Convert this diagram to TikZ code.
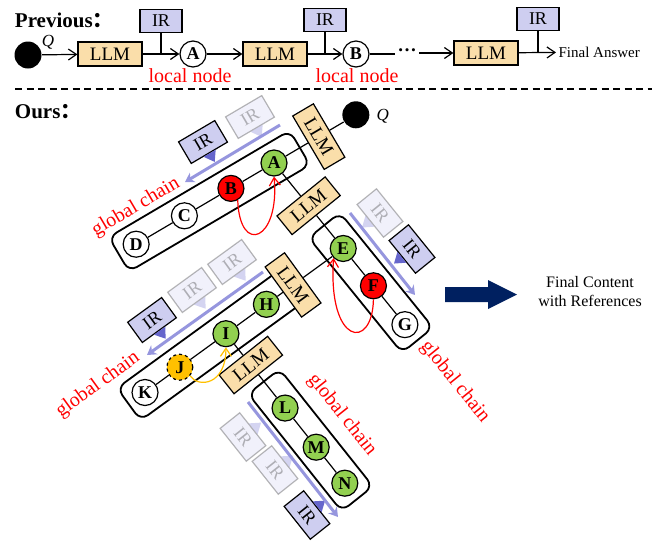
\documentclass[tikz,border=0pt]{standalone}
\usepackage{fontspec}
\setmainfont{Liberation Serif}
\newfontfamily\cjk{Noto Sans CJK SC}
\usetikzlibrary{arrows.meta,calc}

\definecolor{llmfill}{RGB}{250,222,170}
\definecolor{irfill}{RGB}{206,206,240}
\definecolor{irtipc}{RGB}{102,102,204}
\definecolor{irline}{RGB}{150,150,222}
\definecolor{gfill}{RGB}{146,208,80}
\definecolor{jfill}{RGB}{255,192,0}
\definecolor{navyc}{RGB}{0,32,96}

% small pointer under an IR box: box, edge, turn
\newcommand{\irmark}[4][]{%
  \fill[irtipc,#1] ($(#2.#3)!7pt!(#2.#3 east)$) -- ($(#2.#3)!7pt!(#2.#3 west)$)
    -- ($(#2.#3)!10pt!#4:(#2.#3 east)$) -- cycle;}

\begin{document}
\begin{tikzpicture}[x=1pt,y=-1pt,line width=1.2pt,
                    tip/.style={-{Straight Barb[length=8pt,width=11pt]}}]
  \tikzstyle{llm}=[draw,fill=llmfill,minimum width=64pt,minimum height=24pt,inner sep=0pt,font=\fontsize{19}{19}\selectfont]
  \tikzstyle{irbox}=[draw,fill=irfill,minimum width=42pt,minimum height=25pt,inner sep=0pt,font=\fontsize{18}{18}\selectfont]
  \tikzstyle{faded}=[opacity=0.28]
  \tikzstyle{cnode}=[circle,draw,fill=white,minimum size=26pt,inner sep=0pt,font=\bfseries\fontsize{18}{18}\selectfont]
  \tikzstyle{qdot}=[circle,fill=black,minimum size=27pt,inner sep=0pt]
  \tikzstyle{capsule}=[draw,line width=1.8pt,rounded corners=9pt,minimum height=40pt]
  \tikzstyle{chainlbl}=[text=red,font=\fontsize{20}{20}\selectfont]
  \tikzstyle{irflow}=[irline,line width=3pt,-{Stealth[length=9pt,width=11pt]}]

  \useasboundingbox (0,0) rectangle (662,542);

  % previous pipeline
  \node[anchor=west,font=\bfseries\fontsize{21}{21}\selectfont] (prev) at (11,20) {Previous{\cjk ：}};
  \node[qdot] (q0) at (28,55) {};
  \node[font=\itshape\fontsize{17}{17}\selectfont] (q0lbl) at (48,42) {Q};
  \node[llm] (llm1) at (110,54) {LLM};
  \node[irbox,minimum height=23pt] (ir1) at (161,21) {IR};
  \node[cnode] (a0) at (193,54) {A};
  \node[llm] (llm2) at (275,54) {LLM};
  \node[irbox,minimum height=23pt] (ir2) at (325,20) {IR};
  \node[cnode] (b0) at (356,54) {B};
  \node[inner sep=2pt,font=\bfseries\fontsize{19}{19}\selectfont] (dots) at (407,50) {…};
  \node[llm] (llm3) at (486,53) {LLM};
  \node[irbox,minimum height=23pt] (ir3) at (538,19) {IR};
  \node[anchor=west,inner sep=2pt,font=\fontsize{15}{15}\selectfont] (ans) at (556,52) {Final Answer};
  \node[text=red,font=\fontsize{20}{20}\selectfont] (loc1) at (190,76) {local node};
  \node[text=red,font=\fontsize{20}{20}\selectfont] (loc2) at (357,76) {local node};

  \draw[tip] (q0) -- (llm1);
  \draw[tip] (llm1) -- (a0);
  \draw (ir1) -- (ir1 |- a0);
  \draw[tip] (a0) -- (llm2);
  \draw[tip] (llm2) -- (b0);
  \draw (ir2) -- (ir2 |- b0);
  \draw (b0) -- (dots.west |- b0);
  \draw[tip] (dots.east |- llm3) -- (llm3);
  \draw[tip] (llm3) -- (ans);
  \draw (ir3) -- (ir3 |- ans);

  \draw[dash pattern=on 7pt off 4.5pt] (15,89) -- (652,89);

  % ours
  \node[anchor=west,font=\bfseries\fontsize{21}{21}\selectfont] (ours) at (11,112) {Ours{\cjk ：}};

  \node[cnode,fill=gfill] (A) at (274,163) {A};
  \node[cnode,fill=red]   (B) at ($(A)+(149.5:50)$) {B};
  \node[cnode]            (C) at ($(A)+(149.5:104)$) {C};
  \node[cnode]            (D) at ($(A)+(149.5:160)$) {D};
  \node[qdot]             (Q) at ($(A)+(-30.5:95)$) {};
  \node[font=\itshape\fontsize{17}{17}\selectfont] (Qlbl) at ($(Q)+(27,1)$) {Q};

  \node[cnode,fill=gfill] (E) at ($(A)+(51:110)$) {E};
  \node[cnode,fill=red]   (F) at ($(A)+(51:158)$) {F};
  \node[cnode]            (G) at ($(A)+(51:208)$) {G};

  \node[cnode,fill=gfill] (H) at ($(E)+(144:95)$) {H};
  \node[cnode,fill=gfill] (I) at ($(E)+(144:145)$) {I};
  \node[cnode,fill=jfill,dashed] (J) at ($(E)+(144:202)$) {J};
  \node[cnode]            (K) at ($(E)+(144:245)$) {K};

  \node[cnode,fill=gfill] (L) at ($(I)+(51.5:95)$) {L};
  \node[cnode,fill=gfill] (M) at ($(I)+(51.5:145)$) {M};
  \node[cnode,fill=gfill] (N) at ($(I)+(51.5:191)$) {N};

  \node[capsule,rotate=30.5,minimum width=210pt] (capA) at ($(A)+(149.5:75)$) {};
  \node[capsule,rotate=-51,minimum width=148pt]  (capE) at ($(A)+(51:154)$) {};
  \node[capsule,rotate=36,minimum width=200pt]   (capH) at ($(E)+(144:165)$) {};
  \node[capsule,rotate=-51.5,minimum width=150pt] (capL) at ($(I)+(51.5:136)$) {};

  \node[llm,minimum width=62pt,rotate=-59.5] (lq) at ($(A)+(-30.5:52)$) {LLM};
  \node[llm,minimum width=62pt,rotate=39]    (la) at ($(A)+(51:55)$) {LLM};
  \node[llm,minimum width=62pt,rotate=-54]   (le) at ($(E)+(144:62)$) {LLM};
  \node[llm,minimum width=62pt,rotate=38.5]  (li) at ($(I)+(51.5:40)$) {LLM};

  \draw (Q) -- (lq) -- (A) -- (B) -- (C) -- (D);
  \draw (A) -- (la) -- (E) -- (F) -- (G);
  \draw (E) -- (le) -- (H) -- (I) -- (J) -- (K);
  \draw (I) -- (li) -- (L) -- (M) -- (N);

  \draw[red,tip] (B.-60) .. controls +(2,56) and +(6,64) .. (A.south);
  \draw[red,tip] (F.south) .. controls +(-1,52) and +(-6,87) .. (E.-135);
  \draw[jfill,tip] (J.-40) .. controls +(8,12) and +(0,38) .. (I.south);

  % retrieval along each chain
  \node[irbox,faded,rotate=30.5] (irA1) at (250,117) {IR};
  \node[irbox,rotate=30.5]       (irA2) at (203,142) {IR};
  \irmark[faded]{irA1}{south}{-90}
  \irmark{irA2}{south}{-90}
  \coordinate (fA1) at (280,125);
  \coordinate (fA2) at (185,182);
  \draw[irflow] (fA1) -- (fA2);

  \node[irbox,faded,rotate=-51] (irE1) at (380,213) {IR};
  \node[irbox,rotate=-51]       (irE2) at (412,249) {IR};
  \irmark[faded]{irE1}{south}{-90}
  \irmark{irE2}{south}{-90}
  \coordinate (fE1) at (350,213);
  \coordinate (fE2) at (415,295);
  \draw[irflow] (fE1) -- (fE2);

  \node[irbox,faded,rotate=36] (irH1) at (232,262) {IR};
  \node[irbox,faded,rotate=36] (irH2) at (192,290) {IR};
  \node[irbox,rotate=36]       (irH3) at (152,320) {IR};
  \irmark[faded]{irH1}{south}{-90}
  \irmark[faded]{irH2}{south}{-90}
  \irmark{irH3}{south}{-90}
  \coordinate (fH1) at (263,272);
  \coordinate (fH2) at (147,355);
  \draw[irflow] (fH1) -- (fH2);

  \node[irbox,faded,rotate=-51.5] (irL1) at (243,437) {IR};
  \node[irbox,faded,rotate=-51.5] (irL2) at (275,470) {IR};
  \node[irbox,rotate=-51.5]       (irL3) at (307,515) {IR};
  \irmark[faded]{irL1}{north}{90}
  \irmark[faded]{irL2}{north}{90}
  \irmark{irL3}{north}{90}
  \coordinate (fL1) at (248,402);
  \coordinate (fL2) at (338,517);
  \draw[irflow] (fL1) -- (fL2);

  \node[chainlbl,rotate=30.5] (lblA) at (136,207) {global chain};
  \node[chainlbl,rotate=-51]  (lblE) at (455,382) {global chain};
  \node[chainlbl,rotate=36]   (lblH) at (98,385) {global chain};
  \node[chainlbl,rotate=-51.5] (lblL) at (342,415) {global chain};

  % output
  \fill[navyc] (445,287) -- (488,287) -- (488,280) -- (517,294.5) -- (488,309) -- (488,302) -- (445,302) -- cycle;
  \node[align=center,font=\fontsize{16}{19}\selectfont] (fin) at (590,292) {Final Content\\with References};
\end{tikzpicture}
\end{document}
